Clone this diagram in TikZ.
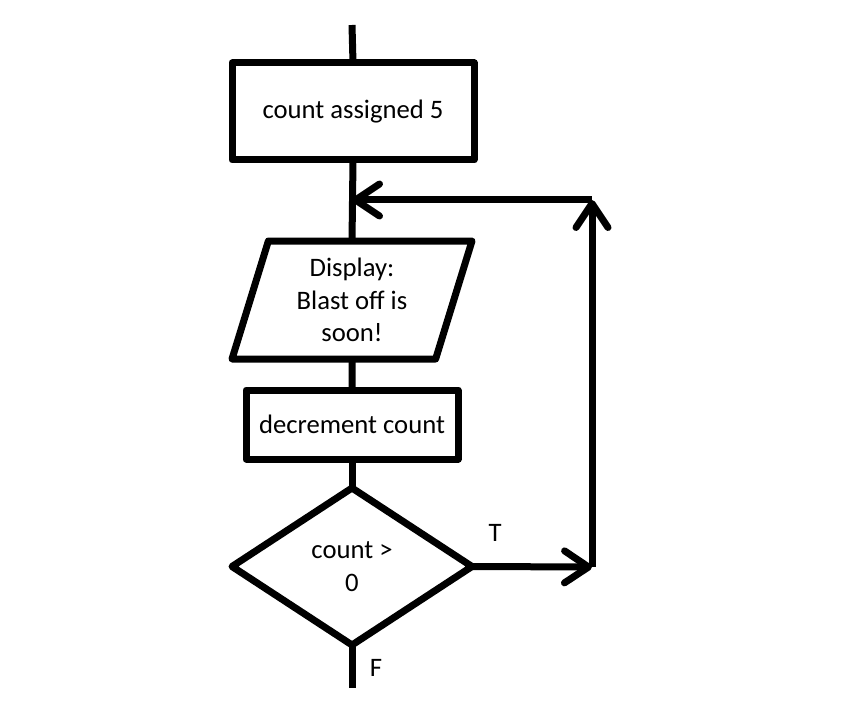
\documentclass[tikz,border=0pt]{standalone}
\usepackage{fontspec}
\setmainfont{Carlito}
\usetikzlibrary{shapes.geometric}
\usetikzlibrary{arrows.meta}
\usetikzlibrary{calc}

\tikzset{
  box/.style={draw, line width=5.25pt, line join=round, fill=white, align=center, inner sep=0pt,
    outer sep=0pt, font=\fontsize{20}{24.5}\selectfont},
  lbl/.style={font=\fontsize{20}{24.5}\selectfont},
  flow/.style={line width=5.25pt},
  flowarrow/.style={flow, line join=round, -{Straight Barb[length=18pt,width=24pt,round]}}
}

\begin{document}
\begin{tikzpicture}[x=0.75pt, y=-0.75pt, auto, swap]
 \useasboundingbox (0,0) rectangle (852,720);

 %boxes
 \node[box, minimum width=181.5pt, minimum height=72.75pt] (assign) at (353,111.5) {count assigned 5};
 \node[box, trapezium, trapezium left angle=66.6, trapezium right angle=113.4, trapezium stretches body,
   minimum width=180pt, minimum height=88.5pt] (disp) at (352,300) {Display:\\Blast off is\\soon!};
 \node[box, minimum width=159pt, minimum height=51.75pt] (dec) at (352,424.5) {decrement count};
 \node[box, diamond, aspect=1.53, minimum width=180pt, minimum height=117.75pt] (test) at (352,566.5) {count >\\0};

 %loop points
 \coordinate (top) at (352,25);
 \coordinate (join) at (352,200);
 \coordinate (corner) at (592,200);
 \coordinate (bend) at (592,567);
 \coordinate (out) at (352,688);

 %lines
 \draw[flow] (top) -- (assign.north);
 \draw[flow] (assign.south) -- (disp.north);
 \draw[flow] (disp.south) -- (dec.north);
 \draw[flow] (dec.south) -- (test.north);
 \draw[flow] (test.south) -- (out);

 %loop back
 \draw[flowarrow] (test.east) -- (bend);
 \draw[flowarrow] (bend) -- (corner);
 \draw[flowarrow] (corner) -- (join);

 \node[lbl] (lblT) at (495,533) {T};
 \node[lbl] (lblF) at (376,668) {F};
\end{tikzpicture}
\end{document}
